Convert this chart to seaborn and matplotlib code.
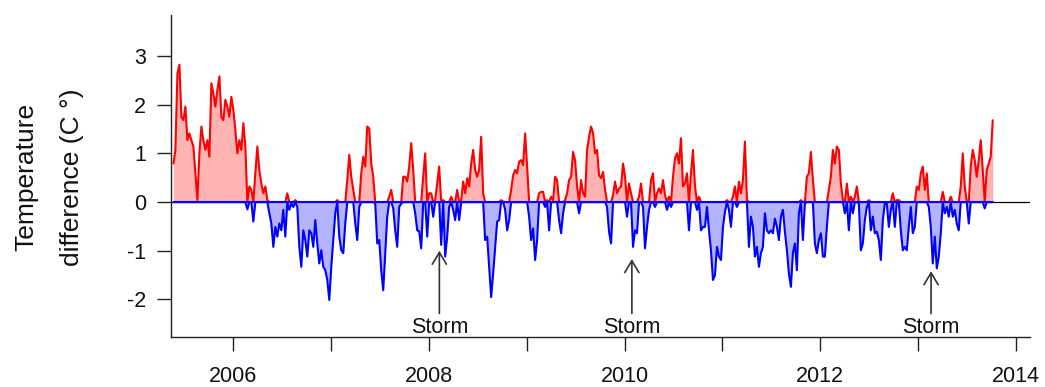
import numpy as np
import pandas as pd
import matplotlib
matplotlib.use("Agg")
import matplotlib.pyplot as plt
import matplotlib.dates as mdates
import seaborn as sns

# ------------------------------------------------------------------
# DATA  (weekly temperature difference, C)
# ------------------------------------------------------------------
diff_2005_2007 = [
    0.79, 1.07, 2.64, 2.82, 1.75, 1.68, 1.96, 1.27, 1.41, 1.27, 1.14, 0.59,
    0.04, 1.00, 1.55, 1.27, 1.07, 1.27, 0.93, 2.44, 2.23, 1.96, 2.30, 2.58,
    1.75, 1.68, 2.10, 1.96, 1.75, 2.16, 1.89, 1.48, 1.00, 1.27, 1.07, 1.62,
    1.14, -0.15, 0.32, 0.25, -0.40, 0.59, 1.14, 0.66, 0.38, 0.18, 0.32, 0.04,
    -0.23, -0.44, -0.92, -0.51, -0.71, -0.44, -0.58, -0.16, -0.71, 0.18, -0.16, -0.03,
    -0.10, 0.04, -0.10, -0.92, -1.33, -0.58, -0.78, -1.12, -0.58, -0.64, -0.92, -0.37,
    -0.85, -1.26, -0.99, -1.33, -1.40, -1.60, -2.01, -1.33, -0.78, -0.23, 0.04, -0.71,
    -0.99, -1.05, -0.44, 0.45, 0.97, 0.52, 0.25, -0.44, -0.78, -0.10, 0.59, 0.93,
    0.73, 1.55, 1.51, 0.79, 0.52, -0.03, -0.85,
]
diff_2007_2009 = [
    -0.78, -1.40, -1.81, -1.05, -0.30, 0.11, 0.25, -0.13, -0.58, -0.92, -0.10, -0.03,
    0.52, 0.52, 0.42, 0.73, 1.21, 0.66, -0.23, -0.58, -0.60, -0.95, 0.52, 1.00,
    -0.71, 0.18, 0.18, -0.30, 0.04, 0.38, 0.73, -0.88, 0.04, -1.12, -0.71, -0.10,
    0.11, -0.16, -0.37, 0.25, -0.37, 0.04, 0.42, 0.18, 0.49, 0.32, 0.79, 1.07,
    0.66, 0.52, 0.66, 1.34, 0.18, -0.78, -0.71, -1.33, -1.95, -1.47, -0.92, -0.40,
    -0.37, 0.04, 0.01, -0.16, -0.58, -0.37, 0.25, 0.55, 0.66, 0.59, 0.83, 0.86,
    0.76, 1.41, 0.73, -0.30, -0.78, -0.54, -1.19, -0.78, 0.18, 0.21, 0.21, -0.10,
    0.04, -0.58, 0.11, 0.04, 0.52, 0.45, -0.37, -0.64, -0.23, 0.04, 0.18, 0.45,
    0.52, 1.03, 0.86, 0.32, -0.23, 0.45, 0.18, 0.11,
]
diff_2009_2011 = [
    1.07, 1.34, 1.55, 1.41, 1.00, 1.07, 0.55, 0.49, 0.62, 0.25, -0.10, -0.61,
    -0.85, 0.14, 0.42, 0.18, 0.28, 0.32, 0.79, 0.52, -0.30, 0.38, 0.18, -0.92,
    -0.58, -0.64, 0.11, 0.38, -0.10, -0.95, -0.51, -0.16, 0.45, 0.59, -0.10, 0.18,
    0.28, 0.18, 0.45, 0.14, -0.16, 0.11, -0.10, 0.52, 0.90, 1.00, 0.79, 1.31,
    0.32, 0.38, 0.59, -0.58, 0.59, 1.07, 0.32, -0.16, 0.11, -0.58, -0.51, -0.51,
    -0.10, -0.58, -0.99, -1.60, -1.50, -0.92, -1.12, -1.19, -0.51, -0.20, 0.04, -0.16,
    -0.51, 0.11, 0.32, -0.10, 0.42, 0.18, 0.45, 1.24, 0.04, -0.92, -0.30, -0.51,
    -1.12, -0.92, -1.33, -1.05, -0.92, -0.23, -0.58, -0.64, -0.58, -0.64, -0.34, -0.51,
    -0.78, -0.30, -0.16, -0.61, -0.99, -1.47, -1.74,
]
diff_2011_2013 = [
    -1.05, -0.85, -1.40, -0.23, 0.04, -0.78, -0.03, 0.52, 0.59, 1.03, 0.45, -0.85,
    -1.05, -0.78, -0.64, -1.12, -1.12, -0.51, 0.25, 0.52, 1.07, 0.79, 1.14, 1.07,
    0.38, 0.04, -0.23, 0.38, -0.58, 0.11, -0.23, 0.11, 0.32, -0.03, -0.99, -0.85,
    -0.37, -0.10, 0.04, -0.58, -0.30, -0.64, -0.61, -0.78, -1.19, -0.37, -0.03, -0.03,
    -0.51, -0.16, 0.18, -0.51, 0.04, 0.04, -0.58, -0.99, -0.92, -0.99, -0.51, -0.10,
    -0.64, -0.51, 0.32, 0.25, 0.59, 0.73, 0.25, 0.59, -0.10, -0.51, -1.26, -0.71,
    -1.36, -1.12, -0.64, 0.21, -0.23, -0.10, -0.30, 0.11, -0.30, -0.16, -0.44, -0.58,
    0.32, 1.00, 0.32, 0.01, -0.44, 0.73, 1.07, 0.86, 0.52, 0.86, 1.27, 0.66,
    -0.13, 0.66, 0.79, 0.93, 1.68,
]
series_start = "2005-05-24"
series_end = "2013-10-05"

# storm annotations: date of the storm and how far down the arrow reaches
storm_dates = ["2008-02-10", "2010-01-28", "2013-02-17"]
storm_arrow_tip = [-1.00, -1.17, -1.42]
storm_text_y = -2.57

year_ticks = list(range(2006, 2015))
year_labels = [str(y) if y % 2 == 0 else "" for y in year_ticks]
y_ticks = [-2, -1, 0, 1, 2, 3]

# ------------------------------------------------------------------
# PREP
# ------------------------------------------------------------------
temp_diff = np.array(diff_2005_2007 + diff_2007_2009 + diff_2009_2011 + diff_2011_2013)
dates = pd.date_range(series_start, series_end, periods=len(temp_diff))
df = pd.DataFrame({
    "date": dates,
    "above": np.maximum(temp_diff, 0),
    "below": np.minimum(temp_diff, 0),
})

sns.set_theme(style="ticks")
plt.rcParams["font.family"] = ["Liberation Sans", "DejaVu Sans"]

# ------------------------------------------------------------------
# PLOT
# ------------------------------------------------------------------
fig = plt.figure(figsize=(10.45, 3.87), dpi=100)
ax = fig.add_axes([171 / 1045, 1 - 337 / 387, (1030 - 171) / 1045, (337 - 15) / 387])

ax.axhline(0, color="black", lw=0.9, zorder=1)
ax.fill_between(df["date"], df["above"], 0, color="#ffb3b3", lw=0, zorder=2)
ax.fill_between(df["date"], df["below"], 0, color="#b3b3ff", lw=0, zorder=2)
sns.lineplot(data=df, x="date", y="above", color="#ff0000", lw=1.5, ax=ax)
ax.lines[-1].set_zorder(3)
# blue baseline of the negative polygon runs along zero over the whole record
ax.hlines(0, df["date"].min(), df["date"].max(), color="#0000ff", lw=1.5, zorder=3.5)
sns.lineplot(data=df, x="date", y="below", color="#0000ff", lw=1.5, ax=ax)
ax.lines[-1].set_zorder(4)

for d, tip in zip(storm_dates, storm_arrow_tip):
    xd = mdates.date2num(pd.Timestamp(d))
    ax.annotate("Storm", xy=(xd, tip), xytext=(xd, storm_text_y),
                ha="center", va="center", fontsize=15.5, color="#111111",
                arrowprops=dict(arrowstyle="->,head_length=0.55,head_width=0.33",
                                color="#333333", lw=1.2, shrinkA=0, shrinkB=0))

tick_pos = [mdates.date2num(pd.Timestamp(f"{y}-01-01")) for y in year_ticks]
ax.set_xticks(tick_pos)
ax.set_xticklabels(year_labels)
ax.set_xlim(mdates.date2num(pd.Timestamp("2005-05-15")),
            mdates.date2num(pd.Timestamp("2014-02-21")))
ax.set_yticks(y_ticks)
ax.set_yticklabels([str(v) for v in y_ticks])
ax.set_ylim(-2.77, 3.84)
ax.set_xlabel("")
ax.set_ylabel("")

sns.despine(ax=ax)
for side in ("left", "bottom"):
    ax.spines[side].set_color("#222222")
    ax.spines[side].set_linewidth(1.0)
ax.tick_params(axis="both", direction="out", length=10, width=1.0,
               color="#222222", labelsize=15.5, labelcolor="#111111")
ax.tick_params(axis="x", pad=11)
ax.tick_params(axis="y", pad=8)

fig.text(26 / 1045, 1 - 177 / 387, "Temperature", rotation=90,
         ha="center", va="center", fontsize=19, color="#111111")
fig.text(72 / 1045, 1 - 177 / 387, "difference (C °)", rotation=90,
         ha="center", va="center", fontsize=19, color="#111111")

fig.savefig("out.png", dpi=100)
